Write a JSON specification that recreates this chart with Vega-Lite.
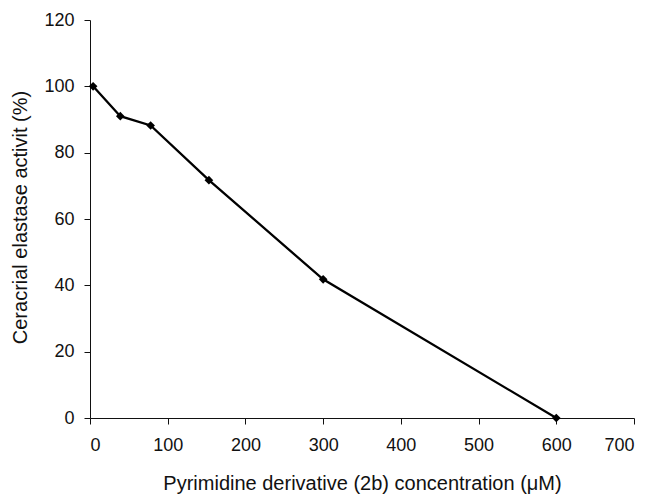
{
  "$schema": "https://vega.github.io/schema/vega-lite/v6.json",
  "width": 544,
  "height": 398,
  "autosize": {"type": "none"},
  "padding": {"left": 90, "top": 20, "right": 14, "bottom": 78},
  "background": "white",
  "config": {
    "view": {"stroke": null},
    "font": "Liberation Sans",
    "axis": {
      "grid": false,
      "domainColor": "#111",
      "tickColor": "#111",
      "domainWidth": 1,
      "tickWidth": 1,
      "tickSize": 6,
      "labelColor": "#111",
      "titleColor": "#111",
      "labelFont": "Liberation Sans",
      "titleFont": "Liberation Sans",
      "labelFontSize": 18,
      "titleFontSize": 20,
      "titleFontWeight": "normal"
    }
  },
  "data": {
    "values": [
      {"conc": 4, "activity": 100},
      {"conc": 39, "activity": 91},
      {"conc": 78, "activity": 88.2},
      {"conc": 153, "activity": 71.7},
      {"conc": 300, "activity": 41.8},
      {"conc": 600, "activity": 0}
    ]
  },
  "mark": {
    "type": "line",
    "color": "#000",
    "strokeWidth": 2.3,
    "point": {"shape": "diamond", "filled": true, "size": 75, "color": "#000"}
  },
  "encoding": {
    "x": {
      "field": "conc",
      "type": "quantitative",
      "scale": {"domain": [0, 700], "nice": false, "zero": true},
      "axis": {
        "values": [0, 100, 200, 300, 400, 500, 600, 700],
        "title": "Pyrimidine derivative (2b) concentration (μM)",
        "labelPadding": 12,
        "titlePadding": 19
      }
    },
    "y": {
      "field": "activity",
      "type": "quantitative",
      "scale": {"domain": [0, 120], "nice": false},
      "axis": {
        "values": [0, 20, 40, 60, 80, 100, 120],
        "title": "Ceracrial elastase activit (%)",
        "titleX": -70,
        "titleY": 197,
        "titleBaseline": "middle",
        "labelPadding": 10
      }
    }
  }
}
